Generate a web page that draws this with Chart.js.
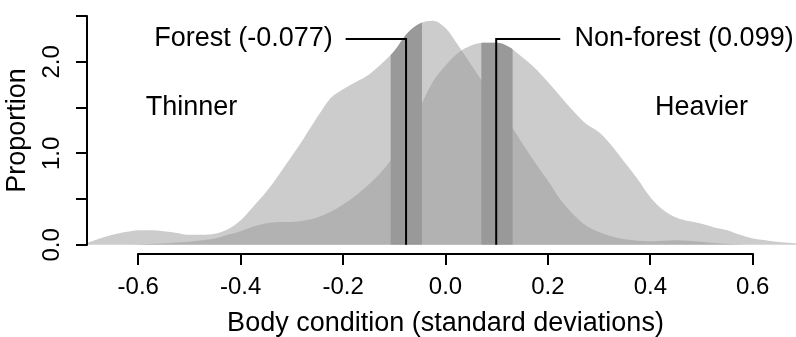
<!DOCTYPE html>
<html>
<head>
<meta charset="utf-8">
<script src="https://cdn.jsdelivr.net/npm/chart.js@4.4.0/dist/chart.umd.min.js"></script>
<style>
  html, body { margin: 0; padding: 0; overflow: hidden; background: #fff; }
  #wrap { width: 804px; height: 337px; }
</style>
</head>
<body>
<div id="wrap"><canvas id="chart" width="804" height="337"></canvas></div>
<script>
// density grid (body condition, sd units)
const xs = [
  -0.700, -0.675, -0.650, -0.625, -0.600, -0.575, -0.550, -0.525, -0.500, -0.475,
  -0.450, -0.425, -0.400, -0.375, -0.350, -0.325, -0.300, -0.275, -0.250, -0.225,
  -0.200, -0.175, -0.150, -0.125, -0.100, -0.075, -0.050, -0.025, 0.000, 0.025,
  0.050, 0.075, 0.100, 0.125, 0.150, 0.175, 0.200, 0.225, 0.250, 0.275,
  0.300, 0.325, 0.350, 0.375, 0.400, 0.425, 0.450, 0.475, 0.500, 0.525,
  0.550, 0.575, 0.600, 0.625, 0.650, 0.675, 0.700
];
const forest = [
  0.02, 0.07, 0.11, 0.14, 0.16, 0.16, 0.15, 0.13, 0.11, 0.11,
  0.12, 0.17, 0.27, 0.42, 0.58, 0.77, 0.97, 1.18, 1.40, 1.60,
  1.70, 1.78, 1.86, 1.98, 2.12, 2.31, 2.42, 2.45, 2.37, 2.18,
  1.97, 1.76, 1.54, 1.33, 1.11, 0.90, 0.70, 0.49, 0.33, 0.21,
  0.14, 0.09, 0.06, 0.045, 0.04, 0.045, 0.05, 0.045, 0.035, 0.02,
  0.01, 0.005, 0, 0, 0, 0, 0
];
const nonForest = [
  0, 0, 0, 0, 0.003, 0.008, 0.015, 0.025, 0.035, 0.05,
  0.07, 0.11, 0.15, 0.20, 0.235, 0.25, 0.25, 0.265, 0.30, 0.36,
  0.44, 0.54, 0.66, 0.80, 0.98, 1.20, 1.50, 1.78, 1.96, 2.10,
  2.18, 2.21, 2.21, 2.16, 2.05, 1.93, 1.78, 1.62, 1.46, 1.32,
  1.23, 1.08, 0.90, 0.72, 0.52, 0.38, 0.30, 0.26, 0.23, 0.19,
  0.16, 0.11, 0.07, 0.05, 0.03, 0.02, 0.01
];

const xTicks = [-0.6, -0.4, -0.2, 0, 0.2, 0.4, 0.6];
const yTicks = [0, 0.5, 1, 1.5, 2, 2.5];

const groups = ['Forest', 'Non-forest'];
const means = [-0.077, 0.099];
const bandLow = [-0.107, 0.070];
const bandHigh = [-0.046, 0.131];
const elbowX = [-0.195, 0.224];
const labelX = [-0.22, 0.252];
const labelY = 2.25;
const sideLabels = ['Thinner', 'Heavier'];
const sideX = [-0.496, 0.5];
const sideY = 1.5;

const FONT = "'Liberation Sans', Arial, sans-serif";
Chart.defaults.font.family = FONT;
Chart.defaults.color = '#000';

const toPoints = ys => xs.map((x, i) => ({ x: x, y: ys[i] }));

function densitySet(ys, order) {
  return {
    data: toPoints(ys),
    order: order,
    fill: 'origin',
    backgroundColor: 'rgba(153,153,153,0.5)',
    borderColor: 'transparent',
    borderWidth: 0,
    pointRadius: 0,
    cubicInterpolationMode: 'monotone'
  };
}

function pointerSet(i, order) {
  return {
    data: [
      { x: elbowX[i], y: labelY },
      { x: means[i], y: labelY },
      { x: means[i], y: 0 }
    ],
    order: order,
    fill: false,
    borderColor: '#000',
    borderWidth: 2,
    pointRadius: 0,
    tension: 0
  };
}

// dark bands around each mean, filled up to that group's curve
const bandPlugin = {
  id: 'bands',
  afterDatasetDraw(chart, args) {
    if (args.index !== 1) return;
    const { ctx, chartArea, scales: { x, y } } = chart;
    const base = y.getPixelForValue(0);
    for (let i = 0; i < 2; i++) {
      const line = chart.getDatasetMeta(i).dataset;
      const pts = line.points;
      const left = x.getPixelForValue(bandLow[i]);
      const right = x.getPixelForValue(bandHigh[i]);
      ctx.save();
      ctx.beginPath();
      ctx.rect(left, chartArea.top, right - left, base - chartArea.top);
      ctx.clip();
      ctx.beginPath();
      line.path(ctx);
      ctx.lineTo(pts[pts.length - 1].x, base);
      ctx.lineTo(pts[0].x, base);
      ctx.closePath();
      ctx.fillStyle = '#999999';
      ctx.fill();
      ctx.restore();
    }
  }
};

const textPlugin = {
  id: 'texts',
  afterDatasetsDraw(chart) {
    const { ctx, scales: { x, y } } = chart;
    ctx.save();
    ctx.font = '27px ' + FONT;
    ctx.fillStyle = '#000';
    ctx.textBaseline = 'middle';
    ctx.textAlign = 'right';
    ctx.fillText(groups[0] + ' (' + means[0].toFixed(3) + ')', x.getPixelForValue(labelX[0]), y.getPixelForValue(labelY));
    ctx.textAlign = 'left';
    ctx.fillText(groups[1] + ' (' + means[1].toFixed(3) + ')', x.getPixelForValue(labelX[1]), y.getPixelForValue(labelY));
    ctx.textAlign = 'center';
    sideLabels.forEach((t, i) => ctx.fillText(t, x.getPixelForValue(sideX[i]), y.getPixelForValue(sideY)));
    ctx.restore();
  }
};

// R style axis lines that only run between the outer ticks
const axisPlugin = {
  id: 'axisLines',
  afterDraw(chart) {
    const { ctx, chartArea, scales: { x, y } } = chart;
    ctx.save();
    ctx.strokeStyle = '#000';
    ctx.lineWidth = 2;
    ctx.lineCap = 'square';
    ctx.beginPath();
    ctx.moveTo(x.getPixelForValue(xTicks[0]), chartArea.bottom);
    ctx.lineTo(x.getPixelForValue(xTicks[xTicks.length - 1]), chartArea.bottom);
    ctx.moveTo(chartArea.left, y.getPixelForValue(yTicks[0]));
    ctx.lineTo(chartArea.left, y.getPixelForValue(yTicks[yTicks.length - 1]));
    ctx.stroke();
    ctx.restore();
  }
};

new Chart(document.getElementById('chart'), {
  type: 'line',
  data: {
    datasets: [
      densitySet(forest, 4),
      densitySet(nonForest, 3),
      pointerSet(0, 1),
      pointerSet(1, 0)
    ]
  },
  options: {
    responsive: false,
    animation: false,
    layout: { padding: { top: 7, left: 0, right: 0, bottom: 0 } },
    plugins: { legend: { display: false }, tooltip: { enabled: false } },
    scales: {
      x: {
        type: 'linear',
        min: -0.7,
        max: 0.7,
        afterBuildTicks: s => { s.ticks = xTicks.map(v => ({ value: v })); },
        afterFit: s => { s.height = 83; s.paddingLeft = 0; s.paddingRight = 0; },
        border: { display: false },
        grid: { drawOnChartArea: false, drawTicks: true, tickLength: 11, color: '#000', lineWidth: 2 },
        ticks: {
          autoSkip: false, maxRotation: 0, padding: 8,
          font: { size: 24 },
          callback: v => v.toFixed(1)
        },
        title: {
          display: true,
          text: 'Body condition (standard deviations)',
          font: { size: 27, lineHeight: 1 },
          padding: { top: 0, bottom: 0 }
        }
      },
      y: {
        min: -0.1,
        max: 2.6,
        afterBuildTicks: s => { s.ticks = yTicks.map(v => ({ value: v })); },
        afterFit: s => { s.width = 87; s.paddingTop = 0; s.paddingBottom = 0; },
        border: { display: false },
        grid: { drawOnChartArea: false, drawTicks: true, tickLength: 11, color: '#000', lineWidth: 2 },
        ticks: {
          autoSkip: false, minRotation: 90, maxRotation: 90, crossAlign: 'center', padding: 7,
          font: { size: 24 },
          callback: v => (Number.isInteger(v) ? v.toFixed(1) : '')
        },
        title: {
          display: true,
          text: 'Proportion',
          font: { size: 27, lineHeight: 1 },
          padding: { top: 4, bottom: 0 }
        }
      }
    }
  },
  plugins: [bandPlugin, textPlugin, axisPlugin]
});
</script>
</body>
</html>
